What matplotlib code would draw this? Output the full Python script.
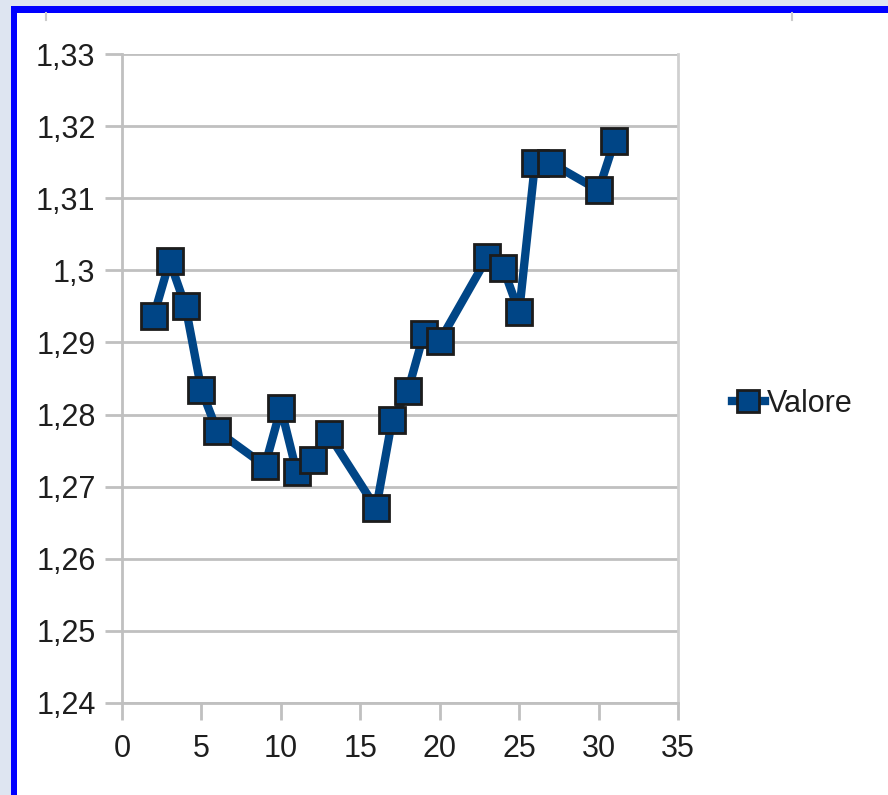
import matplotlib.pyplot as plt
from matplotlib.patches import Rectangle
from matplotlib.lines import Line2D
from matplotlib.ticker import FuncFormatter, MultipleLocator

plt.rcParams['font.family'] = ['Liberation Sans', 'DejaVu Sans']

# data
giorni = [2, 3, 4, 5, 6, 9, 10, 11, 12, 13, 16, 17, 18, 19, 20, 23, 24, 25, 26, 27, 30, 31]
valore = [1.2937, 1.3013, 1.2950, 1.2834, 1.2777, 1.2729, 1.2809, 1.2720, 1.2737, 1.2773,
          1.2670, 1.2792, 1.2833, 1.2912, 1.2902, 1.3018, 1.3003, 1.2942, 1.3149, 1.3149,
          1.3111, 1.3179]

W, H = 888, 795
fig = plt.figure(figsize=(W / 100, H / 100), dpi=100, facecolor='#dee5f1')

# white page with blue frame (cut off on right and bottom)
fig.patches.append(Rectangle((11 / W, 0), 1, (H - 6) / H, transform=fig.transFigure,
                             facecolor='#0000ff', edgecolor='none', zorder=-3))
fig.patches.append(Rectangle((17 / W, 0), 1, (H - 13) / H, transform=fig.transFigure,
                             facecolor='white', edgecolor='none', zorder=-2))
for px in (46, 792):
    fig.lines.append(Line2D([px / W, px / W], [(H - 13) / H, (H - 20) / H],
                            transform=fig.transFigure, color='#cccccc', lw=1.5))

ax = fig.add_axes([122 / W, (H - 703) / H, (678 - 122) / W, (703 - 54) / H])
ax.set_facecolor('white')

ax.plot(giorni, valore, color='#004586', lw=6, marker='s', markersize=18.5,
        markerfacecolor='#004586', markeredgecolor='#1c1c1c', markeredgewidth=2,
        label='Valore', zorder=3, clip_on=False)

ax.set_xlim(0, 35)
ax.set_ylim(1.24, 1.33)
ax.xaxis.set_major_locator(MultipleLocator(5))
ax.yaxis.set_major_locator(MultipleLocator(0.01))


def virgola(v, pos):
    s = ('%.2f' % v).rstrip('0').rstrip('.')
    return s.replace('.', ',')


ax.yaxis.set_major_formatter(FuncFormatter(virgola))
ax.xaxis.set_major_formatter(FuncFormatter(lambda v, p: '%d' % v))

ax.grid(axis='y', color='#c0c0c0', lw=2, zorder=1)
ax.set_axisbelow(True)
ax.spines['top'].set_visible(False)
for side in ('left', 'bottom'):
    ax.spines[side].set_color('#c0c0c0')
    ax.spines[side].set_linewidth(2)
ax.spines['right'].set_color('#d0d0d0')
ax.spines['right'].set_linewidth(2)

ax.tick_params(axis='both', colors='#c0c0c0', width=2, length=12, labelsize=22,
               labelcolor='#1e1e1e')
ax.tick_params(axis='x', pad=10)
ax.tick_params(axis='y', pad=7)

fig.legend(loc='center left', bbox_to_anchor=(704 / W, 1 - 404 / H), frameon=False,
           fontsize=22, handlelength=1.1, handletextpad=0.05, markerscale=0.82,
           labelcolor='#1e1e1e')

fig.savefig('out.png', dpi=100, facecolor=fig.get_facecolor())
